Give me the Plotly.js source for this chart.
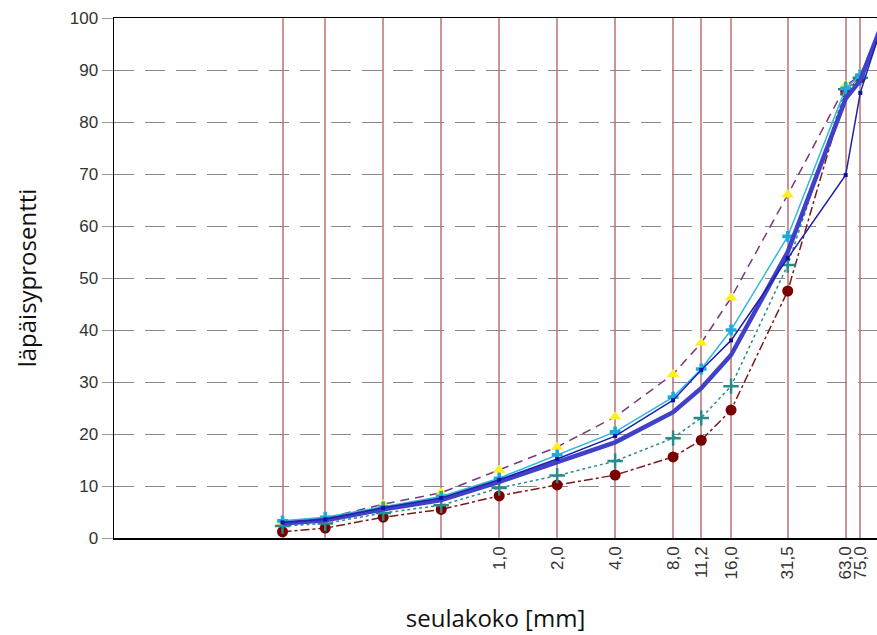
<!DOCTYPE html>
<html>
<head>
<meta charset="utf-8">
<script src="https://cdn.plot.ly/plotly-3.0.1.min.js"></script>
<style>html,body{margin:0;padding:0;background:#fff}#chart{width:877px;height:635px}</style>
</head>
<body>
<div id="chart"></div>
<script>
// Sieve sizes [mm]
const sieves = [0.075, 0.125, 0.25, 0.5, 1.0, 2.0, 4.0, 8.0, 11.2, 16.0, 31.5, 63.0, 75.0, 100];
const tickVals = [0.075, 0.125, 0.25, 0.5, 1.0, 2.0, 4.0, 8.0, 11.2, 16.0, 31.5, 63.0, 75.0];
const tickLabels = ["", "", "", "", "1,0", "2,0", "4,0", "8,0", "11,2", "16,0", "31,5", "63,0", "75,0"];

// Passing percentages
const lowerLimit = [1.2, 1.9, 4.0, 5.5, 8.1, 10.2, 12.1, 15.6, 18.8, 24.6, 47.5, 85.8, 88.5, 100];
const upperLimit = [3.0, 3.8, 6.5, 8.7, 13.1, 17.5, 23.3, 31.5, 37.5, 46.2, 66.0, 87.0, 89.0, 100];
const sampleTeal = [2.3, 2.8, 4.8, 6.3, 9.6, 12.0, 14.8, 19.2, 23.1, 29.2, 52.5, 86.3, 88.5, 100];
const sampleCyan = [3.3, 4.0, 6.0, 8.0, 11.5, 16.0, 20.4, 27.1, 32.5, 40.0, 58.0, 86.5, 89.0, 100];
const meanCurve  = [2.8, 3.4, 5.5, 7.3, 10.8, 14.6, 18.4, 24.2, 28.8, 35.2, 55.0, 84.5, 88.0, 100];
const sampleNavy = [3.0, 3.6, 5.8, 7.7, 11.2, 15.2, 19.6, 26.5, 32.3, 38.0, 53.8, 69.8, 85.6, 100];

const traces = [
  {x: sieves, y: lowerLimit, mode: 'lines+markers', line: {color: '#7a1a1a', width: 1.5, dash: 'dashdot'},
   marker: {symbol: 'circle', size: 11, color: '#7a0000'}},
  {x: sieves, y: upperLimit, mode: 'lines+markers', line: {color: '#7a3a7a', width: 1.5, dash: '9px,6px'},
   marker: {symbol: 'triangle-up', size: 11, color: '#ffee22'}},
  {x: sieves, y: sampleTeal, mode: 'lines+markers', line: {color: '#2a8a8a', width: 1.5, dash: 'dot'},
   marker: {symbol: 'cross-thin-open', size: 11, line: {color: '#1f7f7f', width: 2.5}}},
  {x: sieves, y: sampleCyan, mode: 'lines+markers', line: {color: '#30b8e0', width: 1.5},
   marker: {symbol: 'cross', size: 9, color: '#1ea8e0'}},
  {x: sieves, y: meanCurve, mode: 'lines', line: {color: '#4040c8', width: 4.5}},
  {x: sieves, y: sampleNavy, mode: 'lines+markers', line: {color: '#2020a8', width: 1.5},
   marker: {symbol: 'square', size: 4, color: '#1010a0'}}
];

const layout = {
  width: 877, height: 635,
  margin: {l: 114, r: 0, t: 18, b: 97},
  paper_bgcolor: '#ffffff', plot_bgcolor: '#ffffff',
  showlegend: false,
  font: {family: 'Liberation Sans, Arial, sans-serif', color: '#333333'},
  xaxis: {
    type: 'log', range: [-2, Math.log10(91.6)],
    tickvals: tickVals, ticktext: tickLabels, tickangle: -90,
    tickfont: {size: 17, color: '#333333'},
    ticks: '', showgrid: true, gridcolor: '#cc9494', gridwidth: 2,
    showline: true, linecolor: '#000000', linewidth: 1.5, mirror: true,
    zeroline: false,
    title: {text: 'seulakoko [mm]', font: {family: 'Open Sans, Noto Sans, sans-serif', size: 24, color: '#111111'}, standoff: 32}
  },
  yaxis: {
    range: [0, 100], tickvals: [0,10,20,30,40,50,60,70,80,90,100],
    tickfont: {size: 17, color: '#333333'},
    ticks: 'outside', ticklen: 11, tickcolor: '#999999',
    showgrid: true, gridcolor: '#888888', gridwidth: 1, griddash: '20px,11px',
    showline: true, linecolor: '#000000', linewidth: 1.5,
    zeroline: false,
    title: {text: 'läpäisyprosentti', font: {family: 'Open Sans, Noto Sans, sans-serif', size: 24, color: '#111111'}, standoff: 26}
  }
};

Plotly.newPlot('chart', traces, layout, {displayModeBar: false, staticPlot: true});
</script>
</body>
</html>
